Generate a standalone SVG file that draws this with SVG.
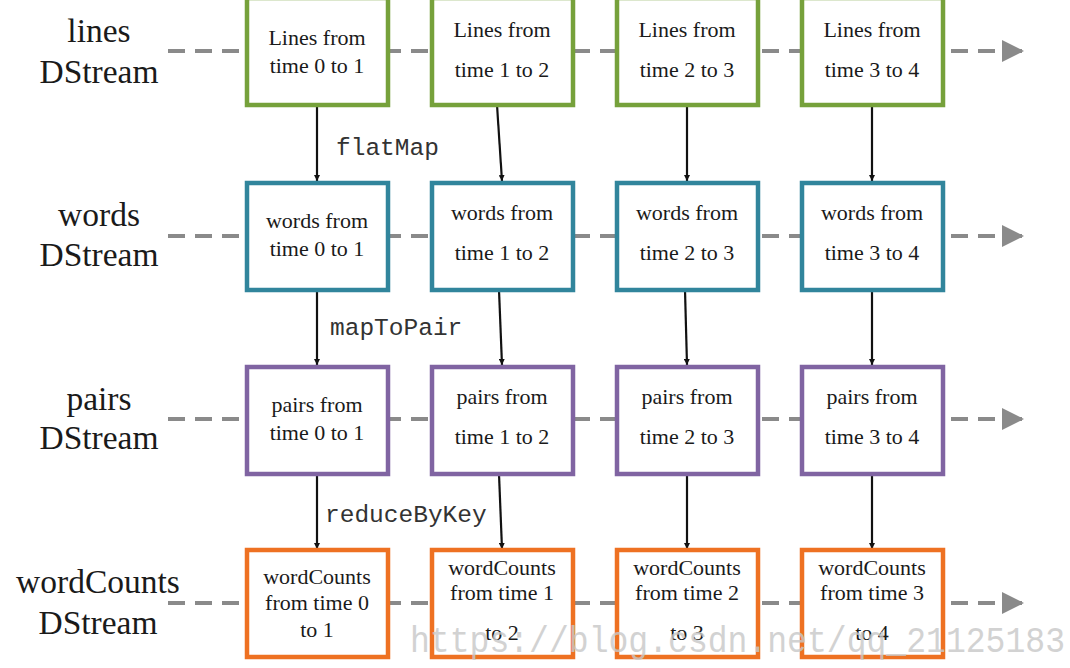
<svg xmlns="http://www.w3.org/2000/svg" width="1070" height="668" viewBox="0 0 1070 668">
<defs>
<style>
.lbl{font-family:"Liberation Serif","Times New Roman",serif;font-size:33.5px;fill:#1a1a1a;text-anchor:middle}
.bt{font-family:"Liberation Serif","Times New Roman",serif;font-size:22px;fill:#1a1a1a;text-anchor:middle}
.op{font-family:"Liberation Mono","Courier New",monospace;font-size:24.5px;fill:#333}
.box{fill:#fff;stroke-width:4.5}
.g{stroke:#76A13B}.b{stroke:#31859C}.p{stroke:#8064A2}.o{stroke:#EE7122}
.dash{stroke:#8a8a8a;stroke-width:4;stroke-dasharray:17 10;fill:none}
.va{stroke:#111;stroke-width:2.2;fill:none}
.wm{font-family:"Liberation Mono","Courier New",monospace;font-size:36px;fill:#c8c8c8;opacity:0.8}
</style>
<marker id="ah" viewBox="0 0 10 10" refX="10" refY="5" markerWidth="6" markerHeight="6" orient="auto" markerUnits="userSpaceOnUse"><path d="M0,0L10,5L0,10Z" fill="#111"/></marker>
<marker id="gh" viewBox="0 0 10 10" refX="10" refY="5" markerWidth="22" markerHeight="22" orient="auto" markerUnits="userSpaceOnUse"><path d="M0,0L10,5L0,10Z" fill="#8a8a8a"/></marker>
</defs>
<rect width="1070" height="668" fill="#fff"/>
<g id="connectors">
<line class="dash" x1="168" y1="51" x2="1024" y2="51" marker-end="url(#gh)"/>
<line class="dash" x1="168" y1="236" x2="1024" y2="236" marker-end="url(#gh)"/>
<line class="dash" x1="168" y1="419" x2="1024" y2="419" marker-end="url(#gh)"/>
<line class="dash" x1="168" y1="603" x2="1024" y2="603" marker-end="url(#gh)"/>
<line class="va" x1="317" y1="105" x2="317" y2="181" marker-end="url(#ah)"/>
<line class="va" x1="497" y1="105" x2="502" y2="181" marker-end="url(#ah)"/>
<line class="va" x1="687" y1="105" x2="687" y2="181" marker-end="url(#ah)"/>
<line class="va" x1="872" y1="105" x2="872" y2="181" marker-end="url(#ah)"/>
<line class="va" x1="317" y1="290" x2="317" y2="365" marker-end="url(#ah)"/>
<line class="va" x1="499" y1="290" x2="502" y2="365" marker-end="url(#ah)"/>
<line class="va" x1="685" y1="290" x2="687" y2="365" marker-end="url(#ah)"/>
<line class="va" x1="872" y1="290" x2="872" y2="365" marker-end="url(#ah)"/>
<line class="va" x1="317" y1="474" x2="317" y2="549" marker-end="url(#ah)"/>
<line class="va" x1="499" y1="474" x2="502" y2="549" marker-end="url(#ah)"/>
<line class="va" x1="687" y1="474" x2="687" y2="549" marker-end="url(#ah)"/>
<line class="va" x1="872" y1="474" x2="872" y2="549" marker-end="url(#ah)"/>
<text class="op" x="336" y="155">flatMap</text>
<text class="op" x="330" y="335">mapToPair</text>
<text class="op" x="325" y="522">reduceByKey</text>
</g>
<g id="labels">
<text class="lbl" x="99" y="42">lines</text><text class="lbl" x="99" y="83">DStream</text>
<text class="lbl" x="99" y="226">words</text><text class="lbl" x="99" y="266">DStream</text>
<text class="lbl" x="99" y="410">pairs</text><text class="lbl" x="99" y="449">DStream</text>
<text class="lbl" x="98" y="593">wordCounts</text><text class="lbl" x="98" y="634">DStream</text>
</g>
<g id="l0"><rect class="box g" x="247" y="-2" width="141" height="107"/><text class="bt" x="317" y="45">Lines from</text><text class="bt" x="317" y="73">time 0 to 1</text></g>
<g id="l1"><rect class="box g" x="432" y="-2" width="141" height="107"/><text class="bt" x="502" y="37">Lines from</text><text class="bt" x="502" y="77">time 1 to 2</text></g>
<g id="l2"><rect class="box g" x="617" y="-2" width="141" height="107"/><text class="bt" x="687" y="37">Lines from</text><text class="bt" x="687" y="77">time 2 to 3</text></g>
<g id="l3"><rect class="box g" x="802" y="-2" width="141" height="107"/><text class="bt" x="872" y="37">Lines from</text><text class="bt" x="872" y="77">time 3 to 4</text></g>
<g id="w0"><rect class="box b" x="247" y="183" width="141" height="107"/><text class="bt" x="317" y="228">words from</text><text class="bt" x="317" y="256">time 0 to 1</text></g>
<g id="w1"><rect class="box b" x="432" y="183" width="141" height="107"/><text class="bt" x="502" y="220">words from</text><text class="bt" x="502" y="260">time 1 to 2</text></g>
<g id="w2"><rect class="box b" x="617" y="183" width="141" height="107"/><text class="bt" x="687" y="220">words from</text><text class="bt" x="687" y="260">time 2 to 3</text></g>
<g id="w3"><rect class="box b" x="802" y="183" width="141" height="107"/><text class="bt" x="872" y="220">words from</text><text class="bt" x="872" y="260">time 3 to 4</text></g>
<g id="p0"><rect class="box p" x="247" y="367" width="141" height="107"/><text class="bt" x="317" y="412">pairs from</text><text class="bt" x="317" y="440">time 0 to 1</text></g>
<g id="p1"><rect class="box p" x="432" y="367" width="141" height="107"/><text class="bt" x="502" y="404">pairs from</text><text class="bt" x="502" y="444">time 1 to 2</text></g>
<g id="p2"><rect class="box p" x="617" y="367" width="141" height="107"/><text class="bt" x="687" y="404">pairs from</text><text class="bt" x="687" y="444">time 2 to 3</text></g>
<g id="p3"><rect class="box p" x="802" y="367" width="141" height="107"/><text class="bt" x="872" y="404">pairs from</text><text class="bt" x="872" y="444">time 3 to 4</text></g>
<g id="c0"><rect class="box o" x="247" y="550" width="141" height="107"/><text class="bt" x="317" y="584">wordCounts</text><text class="bt" x="317" y="610">from time 0</text><text class="bt" x="317" y="637">to 1</text></g>
<g id="c1"><rect class="box o" x="432" y="550" width="141" height="107"/><text class="bt" x="502" y="575">wordCounts</text><text class="bt" x="502" y="600">from time 1</text><text class="bt" x="502" y="640">to 2</text></g>
<g id="c2"><rect class="box o" x="617" y="550" width="141" height="107"/><text class="bt" x="687" y="575">wordCounts</text><text class="bt" x="687" y="600">from time 2</text><text class="bt" x="687" y="640">to 3</text></g>
<g id="c3"><rect class="box o" x="802" y="550" width="141" height="107"/><text class="bt" x="872" y="575">wordCounts</text><text class="bt" x="872" y="600">from time 3</text><text class="bt" x="872" y="640">to 4</text></g>
<text class="wm" x="410" y="652" textLength="655" lengthAdjust="spacingAndGlyphs">https://blog.csdn.net/qq_21125183</text>
</svg>
